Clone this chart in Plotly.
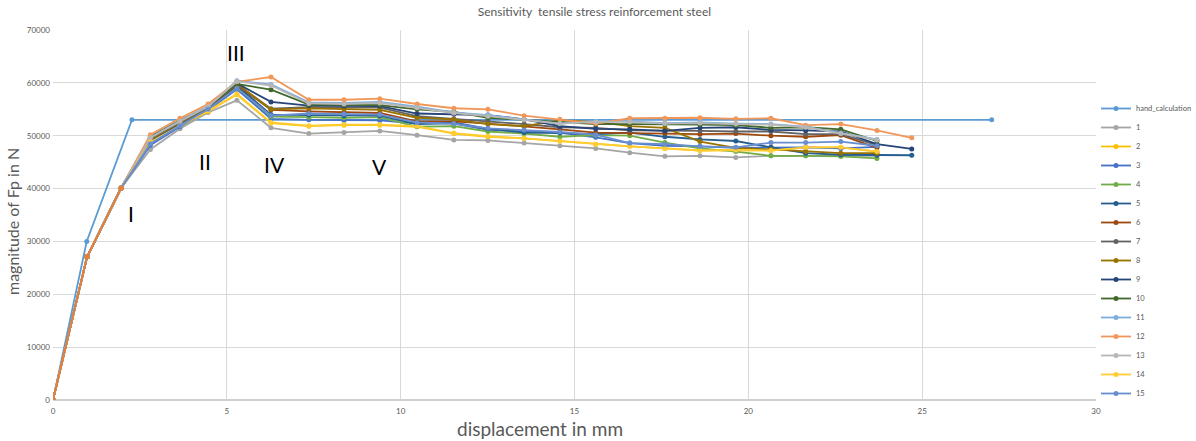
import plotly.graph_objects as go

# Displacement steps (mm) of the numerical runs
displacement = [0, 0.98, 1.96, 2.80, 3.65, 4.46, 5.29, 6.27, 7.36, 8.37, 9.40,
                10.47, 11.53, 12.51, 13.55, 14.58, 15.61, 16.59, 17.60, 18.61,
                19.64, 20.65, 21.65, 22.66, 23.70, 24.70]

# Shared elastic branch (first three steps, identical for all runs)
elastic_y = [0, 27100, 40100]

# Hand calculation
hand_x = [0, 0.97, 2.27, 27.0]
hand_y = [0, 30000, 53000, 53000]

# Force Fp (N) per sensitivity run, from step 4 onwards
run_1 = [47400, 51300, 54400, 56700, 51500, 50400, 50600, 50900, 50100, 49200, 49100,
         48600, 48100, 47600, 46800, 46100, 46200, 45900, 46200, 46200, 46100, 46200]
run_2 = [48700, 51800, 54600, 57800, 52400, 51800, 52000, 52000, 51700, 50400, 49800,
         49500, 49000, 48400, 48000, 47600, 47200, 47300, 47200, 47800, 47800, 47000]
run_3 = [48200, 51700, 54800, 58800, 53200, 53000, 52900, 52900, 52300, 52300, 51100,
         50800, 50600, 49700, 48600, 48100, 48000, 47700, 47800, 47800, 47600, 47900]
run_4 = [49300, 52300, 55000, 59300, 53600, 53500, 53400, 53500, 51700, 51800, 50800,
         50400, 49800, 50100, 50000, 48700, 47600, 47000, 46200, 46200, 46100, 45700]
run_5 = [49000, 52200, 55200, 59500, 54000, 53900, 53800, 53800, 52200, 52500, 51300,
         50600, 50500, 50300, 50600, 49800, 49300, 49000, 47800, 46700, 46400, 46300, 46300]
run_6 = [49500, 52500, 55300, 59600, 54900, 54600, 54400, 54300, 52700, 52700, 52300,
         51800, 51200, 50600, 50500, 50500, 50300, 50400, 50000, 49800, 50100, 47700]
run_7 = [49200, 52400, 55200, 59700, 55100, 55400, 55300, 55300, 53700, 53200, 52800,
         52200, 51600, 51500, 51000, 51000, 50900, 50800, 50800, 50300, 50300, 48200]
run_8 = [49400, 52500, 55300, 59800, 55000, 55200, 55000, 54900, 53400, 53100, 52200,
         51800, 52900, 52600, 51800, 51500, 48900, 47700, 47400, 47000, 46700, 46700]
run_9 = [49600, 52700, 55400, 59900, 56400, 55700, 55600, 55600, 54200, 54100, 53900,
         53100, 51800, 51300, 51200, 50900, 51500, 51600, 51100, 51000, 50800, 48400, 47500]
run_10 = [49800, 52900, 55500, 59800, 58700, 55900, 55800, 55800, 55000, 54500, 53400,
          53000, 52500, 52200, 52200, 52200, 52100, 52000, 51500, 51600, 51200, 49000]
run_11 = [49700, 52800, 55600, 60400, 59700, 56300, 56200, 56400, 55500, 54400, 53900,
          53100, 52300, 52700, 52700, 52400, 52500, 52300, 52200, 51700, 50500, 49300]
run_12 = [50200, 53300, 56000, 60200, 61100, 56800, 56800, 57000, 56000, 55200, 55000,
          53800, 53100, 52300, 53300, 53300, 53400, 53200, 53300, 52000, 52200, 51000, 49600]
run_13 = [49600, 52700, 55500, 60300, 59500, 56100, 56000, 56200, 55300, 54300, 53700,
          53000, 52300, 52600, 52600, 52300, 52400, 52200, 52100, 51600, 50400, 49200]
run_14 = [48800, 51900, 54700, 57900, 52500, 51900, 52100, 52100, 51800, 50500, 49900,
          49500, 49000, 48400, 48000, 47600, 47200, 47300, 47200, 47800, 47800, 47000]
run_15 = [48500, 51900, 55000, 59000, 53800, 54200, 54100, 54000, 52500, 52300, 51400,
          51100, 50700, 50200, 48600, 48400, 48000, 47800, 48700, 48700, 48900, 48100]

runs = [
    ("1", run_1, "#A5A5A5"),
    ("2", run_2, "#FFC000"),
    ("3", run_3, "#4472C4"),
    ("4", run_4, "#70AD47"),
    ("5", run_5, "#255E91"),
    ("6", run_6, "#9E480E"),
    ("7", run_7, "#636363"),
    ("8", run_8, "#997300"),
    ("9", run_9, "#264478"),
    ("10", run_10, "#43682B"),
    ("11", run_11, "#7CAFDD"),
    ("12", run_12, "#F1975A"),
    ("13", run_13, "#B7B7B7"),
    ("14", run_14, "#FFCD33"),
    ("15", run_15, "#698ED0"),
]

# Phase labels (x in mm, y in N)
phase_labels = ["III", "II", "I", "IV", "V"]
phase_x = [5.26, 4.37, 2.24, 6.36, 9.38]
phase_y = [65800, 45200, 35200, 44500, 44100]

FONT = "Lato, 'Open Sans', sans-serif"
TXT = "#595959"
GRID = "#D9D9D9"

fig = go.Figure()

fig.add_trace(go.Scatter(
    x=hand_x, y=hand_y, name="hand_calculation", mode="lines+markers",
    line=dict(color="#5B9BD5", width=1.8), marker=dict(size=5, color="#5B9BD5"),
))

for name, values, color in runs:
    y = elastic_y + values
    fig.add_trace(go.Scatter(
        x=displacement[:len(y)], y=y, name=name, mode="lines+markers",
        line=dict(color=color, width=1.8), marker=dict(size=5, color=color),
    ))

# Common elastic branch drawn on top
fig.add_trace(go.Scatter(
    x=displacement[:3], y=elastic_y, mode="lines+markers", showlegend=False,
    line=dict(color="#ED7D31", width=1.8), marker=dict(size=5, color="#ED7D31"),
))

for t, px_, py_ in zip(phase_labels, phase_x, phase_y):
    fig.add_annotation(x=px_, y=py_, text=t, showarrow=False,
                       font=dict(family=FONT, size=21, color="#000000"))

# Axis titles
fig.add_annotation(xref="paper", yref="paper", x=(540 - 53) / 1043, y=-28 / 370,
                   xanchor="center", yanchor="middle",
                   text="displacement in mm", showarrow=False,
                   font=dict(family=FONT, size=19, color=TXT))
fig.add_annotation(xref="paper", yref="paper", x=-41 / 1043, y=(400 - 222) / 370,
                   xanchor="center", yanchor="middle",
                   text="magnitude of Fp in N", showarrow=False, textangle=-90,
                   font=dict(family=FONT, size=16, color=TXT))

fig.update_layout(
    width=1196, height=441,
    margin=dict(l=53, r=100, t=30, b=41, autoexpand=False),
    paper_bgcolor="white", plot_bgcolor="white",
    title=dict(text="Sensitivity  tensile stress reinforcement steel",
               x=0.497, xanchor="center", y=1 - 12 / 441, yanchor="middle",
               font=dict(family=FONT, size=12, color=TXT)),
    font=dict(family=FONT, color=TXT),
    xaxis=dict(range=[0, 30], dtick=5, showgrid=True, gridcolor=GRID, gridwidth=1,
               zeroline=False, showline=False, ticks="", ticklen=0,
               ticklabelstandoff=5,
               tickfont=dict(size=8, color=TXT)),
    yaxis=dict(range=[0, 70000], dtick=10000, showgrid=True, gridcolor=GRID, gridwidth=1,
               zeroline=True, zerolinecolor="#D0D0D0", zerolinewidth=1.5,
               showline=False, ticks="", tickformat="d", ticklabelstandoff=2,
               tickfont=dict(size=8, color=TXT)),
    legend=dict(x=1.0, xanchor="left", y=(400 - 94) / 370, yanchor="top",
                font=dict(size=7.5, color=TXT), bgcolor="rgba(0,0,0,0)",
                itemwidth=30, tracegroupgap=0),
    showlegend=True,
)

fig.write_html("out.html")
